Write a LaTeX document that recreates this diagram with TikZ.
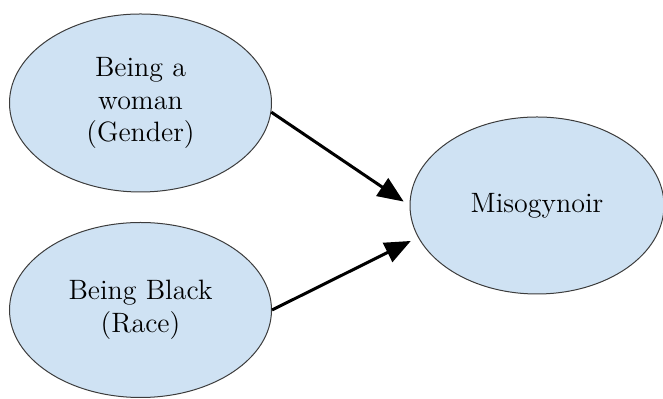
\documentclass[tikz,border=0pt]{standalone}
\usetikzlibrary{arrows.meta,shapes.geometric}
\definecolor{bubbleFill}{HTML}{CFE2F3}
\definecolor{bubbleLine}{HTML}{3C3C3C}
\tikzset{
	bubble/.style={draw=bubbleLine, fill=bubbleFill, ellipse, line width=0.5pt,
		inner sep=0pt, align=center, font=\fontsize{14}{16.25}\selectfont},
}
\begin{document}
\begin{tikzpicture}[x=0.5pt, y=-0.5pt, >={Triangle[length=13pt,width=10.5pt]},
		line width=1.5pt]
	\useasboundingbox (0,0) rectangle (663,399);
	
	\node[bubble, minimum width=131pt, minimum height=89pt] (woman) at (140.5, 103) {Being a\\ woman\\ (Gender)};
	\node[bubble, minimum width=131pt, minimum height=87.5pt] (black) at (140.5, 310) {Being Black\\ (Race)};
	\node[bubble, minimum width=127pt, minimum height=88.5pt] (miso) at (537, 205.5) {Misogynoir};
	
	\draw[->, shorten >=3.5pt] (woman.-4) -- (miso.west);
	\draw[->, shorten >=4pt] (black.east) -- (miso.195);
\end{tikzpicture}
\end{document}
